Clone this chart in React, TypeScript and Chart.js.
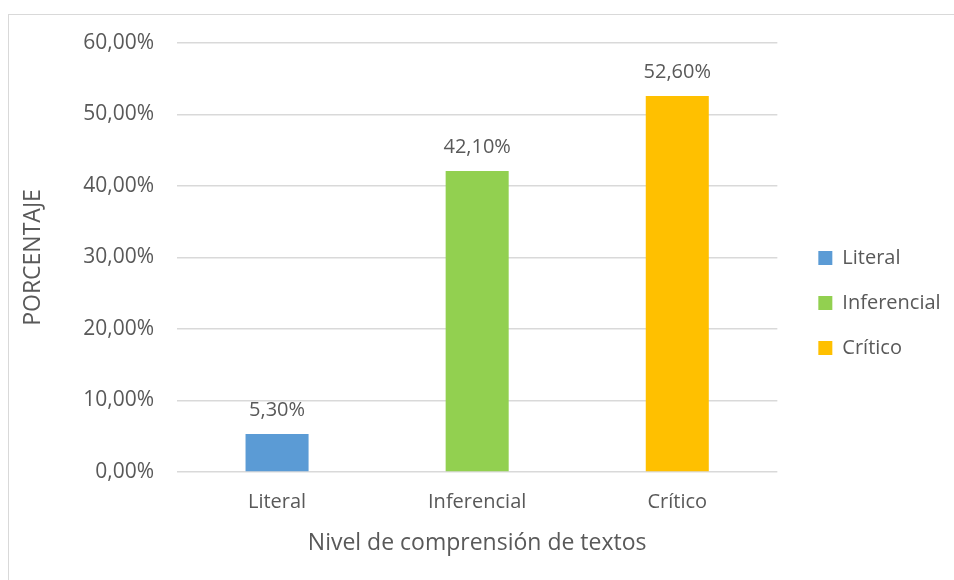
import React, { useEffect, useRef } from "react";
import { Chart, registerables } from "chart.js";

Chart.register(...registerables);

const categories = ["Literal", "Inferencial", "Crítico"];
const values = [5.3, 42.1, 52.6];
const colors = ["#5B9BD5", "#92D050", "#FFC000"];
const yTicksMax = 60;
const yStep = 10;
const xTitle = "Nivel de comprensión de textos";
const yTitle = "PORCENTAJE";

const FONT = "'Open Sans', 'Noto Sans', sans-serif";
const TEXT = "#595959";

const fmt = (v: number) => v.toFixed(2).replace(".", ",") + "%";

const framePlugin = {
  id: "frame",
  beforeDraw(chart: any) {
    const ctx = chart.ctx;
    ctx.save();
    ctx.fillStyle = "#ffffff";
    ctx.fillRect(0, 0, chart.width, chart.height);
    ctx.strokeStyle = "#d9d9d9";
    ctx.lineWidth = 1;
    ctx.strokeRect(8.5, 14.5, 1100, 1100);
    ctx.restore();
  },
};

const labelPlugin = {
  id: "valueLabels",
  afterDatasetsDraw(chart: any) {
    const ctx = chart.ctx;
    const meta = chart.getDatasetMeta(0);
    ctx.save();
    ctx.font = `20px ${FONT}`;
    ctx.fillStyle = TEXT;
    ctx.textAlign = "center";
    ctx.textBaseline = "middle";
    meta.data.forEach((bar: any, i: number) => {
      ctx.fillText(fmt(values[i]), bar.x, bar.y - 24);
    });
    ctx.restore();
  },
};

export default function App() {
  const ref = useRef<HTMLCanvasElement | null>(null);
  useEffect(() => {
    if (!ref.current) return;
    const chart = new Chart(ref.current, {
      type: "bar",
      data: {
        labels: categories,
        datasets: [
          {
            label: "Porcentaje",
            data: values,
            backgroundColor: colors,
            categoryPercentage: 1,
            barPercentage: 0.315,
          },
        ],
      },
      options: {
        responsive: false,
        animation: false,
        layout: { padding: { left: 20, top: 43, right: 6, bottom: 17 } },
        plugins: {
          tooltip: { enabled: false },
          legend: {
            position: "right",
            labels: {
              boxWidth: 14,
              boxHeight: 14,
              padding: 25,
              color: TEXT,
              font: { family: FONT, size: 20 },
              generateLabels: () =>
                categories.map((c, i) => ({
                  text: c,
                  fillStyle: colors[i],
                  strokeStyle: colors[i],
                  lineWidth: 0,
                  hidden: false,
                  index: i,
                  datasetIndex: 0,
                  fontColor: TEXT,
                })),
            },
          },
        },
        scales: {
          x: {
            grid: { display: false, drawTicks: false },
            border: { display: false },
            ticks: { color: TEXT, font: { family: FONT, size: 20 }, padding: 18 },
            title: {
              display: true,
              text: xTitle,
              color: TEXT,
              font: { family: FONT, size: 23 },
              padding: { top: 0, bottom: 6 },
            },
            afterFit: (s: any) => {
              s.height = 91;
            },
          },
          y: {
            min: 0,
            max: yTicksMax,
            grid: { color: "#d9d9d9", drawTicks: false, lineWidth: 1.5 },
            border: { display: false },
            ticks: {
              stepSize: yStep,
              color: TEXT,
              padding: 23,
              font: { family: FONT, size: 21 },
              callback: (v: any) => fmt(Number(v)),
            },
            title: {
              display: true,
              text: yTitle,
              color: TEXT,
              font: { family: FONT, size: 23 },
              padding: { top: 0, bottom: 0 },
            },
            afterFit: (s: any) => {
              s.width = 157;
            },
          },
          y2: {
            position: "right",
            display: true,
            grid: { display: false, drawTicks: false },
            border: { display: false },
            ticks: { display: false },
            afterFit: (s: any) => {
              s.width = 16;
            },
          },
        },
      } as any,
      plugins: [framePlugin, labelPlugin],
    });
    return () => chart.destroy();
  }, []);
  return (
    <div style={{ position: "absolute", left: 0, top: 0, width: 954, height: 580 }}>
      <canvas ref={ref} width={954} height={580} style={{ display: "block" }} />
    </div>
  );
}
